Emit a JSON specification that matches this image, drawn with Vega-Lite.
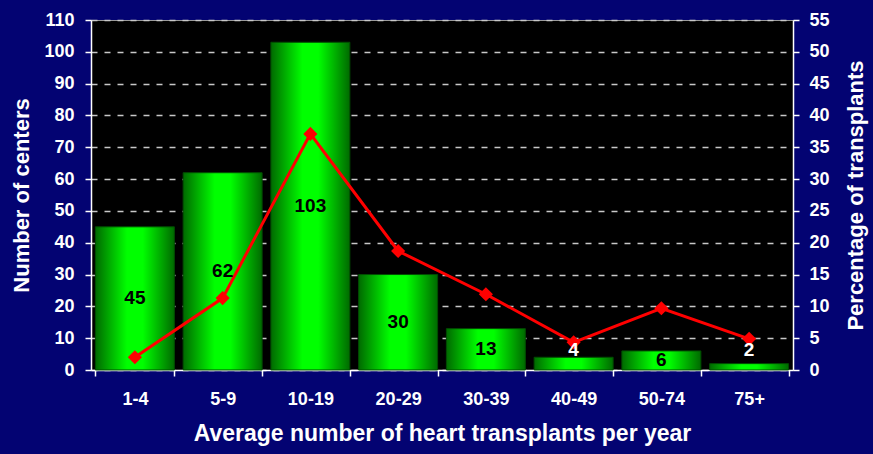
{
  "$schema": "https://vega.github.io/schema/vega-lite/v6.json",
  "width": 702,
  "height": 350,
  "autosize": {"type": "none"},
  "padding": {"left": 91, "top": 20, "right": 80, "bottom": 84},
  "background": "#030372",
  "config": {
    "view": {"fill": "#000000", "stroke": "#9a9a9a", "strokeWidth": 1},
    "font": "Liberation Sans"
  },
  "data": {
    "values": [
      {"group": "1-4", "centers": 45, "pct": 2.0},
      {"group": "5-9", "centers": 62, "pct": 11.3},
      {"group": "10-19", "centers": 103, "pct": 37.1},
      {"group": "20-29", "centers": 30, "pct": 18.7},
      {"group": "30-39", "centers": 13, "pct": 11.9},
      {"group": "40-49", "centers": 4, "pct": 4.35},
      {"group": "50-74", "centers": 6, "pct": 9.7},
      {"group": "75+", "centers": 2, "pct": 4.9}
    ]
  },
  "encoding": {
    "x": {
      "field": "group",
      "type": "ordinal",
      "sort": null,
      "scale": {"paddingInner": 0.1, "paddingOuter": 0.05},
      "axis": {
        "title": "Average number of heart transplants per year",
        "labelAngle": 0,
        "labelFontSize": 18,
        "labelFontWeight": "bold",
        "labelColor": "#ffffff",
        "labelPadding": 14,
        "tickBand": "extent",
        "tickSize": 6,
        "tickColor": "#ffffff",
        "tickWidth": 1.5,
        "domainColor": "#ffffff",
        "domainWidth": 1.5,
        "titleFontSize": 23,
        "titleFontWeight": "bold",
        "titleColor": "#ffffff",
        "titlePadding": 14
      }
    }
  },
  "layer": [
    {
      "mark": {
        "type": "bar",
        "color": {
          "gradient": "linear",
          "x1": 0, "x2": 1, "y1": 0, "y2": 0,
          "stops": [
            {"offset": 0, "color": "#006a00"},
            {"offset": 0.4, "color": "#00ff00"},
            {"offset": 0.6, "color": "#00ff00"},
            {"offset": 1, "color": "#006a00"}
          ]
        },
        "stroke": "#004d00",
        "strokeWidth": 1
      },
      "encoding": {
        "y": {
          "field": "centers",
          "type": "quantitative",
          "scale": {"domain": [0, 110], "nice": false},
          "axis": {
            "orient": "left",
            "title": "Number of centers",
            "values": [0, 10, 20, 30, 40, 50, 60, 70, 80, 90, 100, 110],
            "labelFontSize": 18,
            "labelFontWeight": "bold",
            "labelColor": "#ffffff",
            "labelPadding": 11,
            "tickSize": 6,
            "tickColor": "#ffffff",
            "tickWidth": 1.5,
            "domainColor": "#ffffff",
            "domainWidth": 1.5,
            "grid": true,
            "gridColor": "#c8c8c8",
            "gridDash": [6, 7],
            "gridWidth": 1.5,
            "titleFontSize": 22,
            "titleFontWeight": "bold",
            "titleColor": "#ffffff",
            "titlePadding": 10
          }
        }
      }
    },
    {
      "mark": {
        "type": "line",
        "color": "#ff0000",
        "strokeWidth": 3,
        "point": {"shape": "diamond", "size": 200, "filled": true, "color": "#ff0000"}
      },
      "encoding": {
        "y": {
          "field": "pct",
          "type": "quantitative",
          "scale": {"domain": [0, 55], "nice": false},
          "axis": {
            "orient": "right",
            "title": "Percentage of transplants",
            "titleAngle": 270,
            "titleBaseline": "top",
            "values": [0, 5, 10, 15, 20, 25, 30, 35, 40, 45, 50, 55],
            "grid": false,
            "labelFontSize": 18,
            "labelFontWeight": "bold",
            "labelColor": "#ffffff",
            "labelPadding": 10,
            "tickSize": 6,
            "tickColor": "#ffffff",
            "tickWidth": 1.5,
            "domainColor": "#ffffff",
            "domainWidth": 1.5,
            "titleFontSize": 22,
            "titleFontWeight": "bold",
            "titleColor": "#ffffff",
            "titlePadding": 16
          }
        }
      }
    },
    {
      "transform": [
        {"calculate": "datum.centers < 5 ? 6.3 : datum.centers / 2", "as": "labelY"}
      ],
      "mark": {"type": "text", "fontSize": 19, "fontWeight": "bold", "baseline": "middle"},
      "encoding": {
        "y": {
          "field": "labelY",
          "type": "quantitative",
          "scale": {"domain": [0, 110], "nice": false},
          "axis": null
        },
        "text": {"field": "centers", "type": "quantitative"},
        "color": {
          "condition": {"test": "datum.centers < 5", "value": "#ffffff"},
          "value": "#000000"
        }
      }
    }
  ],
  "resolve": {"scale": {"y": "independent"}}
}
